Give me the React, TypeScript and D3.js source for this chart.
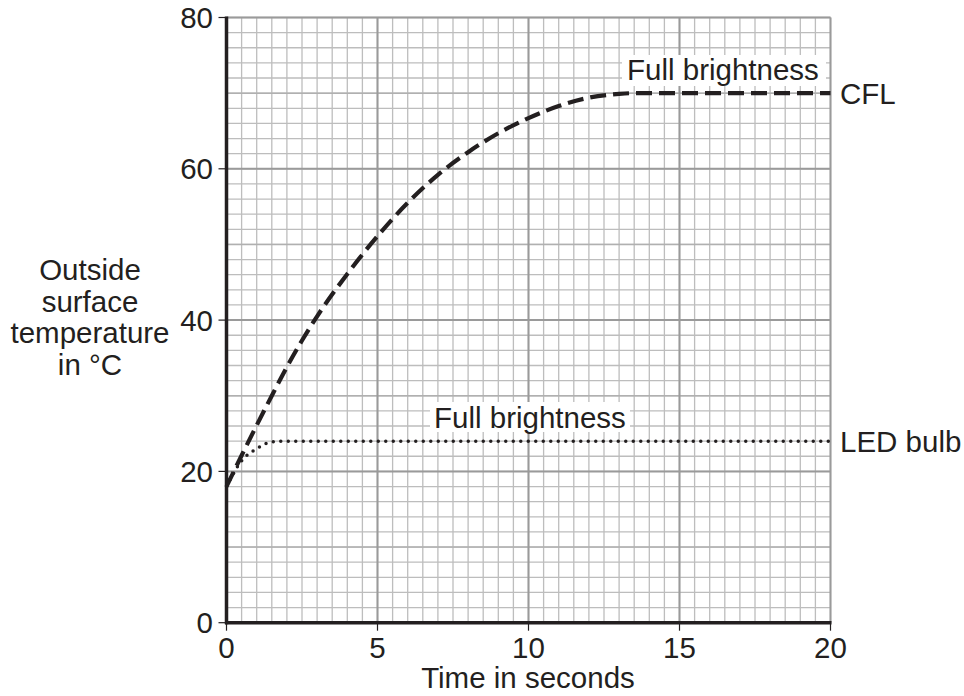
import React from "react";
import * as d3 from "d3";

const cflTime = [0, 0.5, 1, 1.5, 2, 2.5, 3, 4, 5, 6, 7, 8, 9, 10, 11, 12, 13, 13.5, 20];
const cflTemp = [18, 22.1, 26.1, 30, 33.8, 37.3, 40.5, 46.1, 51.1, 55.5, 59.2, 62.2, 64.7, 66.7, 68.3, 69.4, 69.9, 70, 70];
const ledTime = [0, 0.5, 1, 1.5, 2, 20];
const ledTemp = [18, 21.4, 23, 23.9, 24, 24];
const xTicks = [0, 5, 10, 15, 20];
const yTicks = [0, 20, 40, 60, 80];
const yTitleLines = ["Outside", "surface", "temperature", "in °C"];

const W = 964;
const H = 696;
const L = 226.5;
const R = 830.5;
const T = 17.5;
const B = 622.7;
const FONT = "'Liberation Sans', Arial, sans-serif";
const FS = 29.5;

export default function App() {
  const x = d3.scaleLinear().domain([0, 20]).range([L, R]);
  const y = d3.scaleLinear().domain([0, 80]).range([B, T]);
  const line = d3
    .line<[number, number]>()
    .x((d) => x(d[0]))
    .y((d) => y(d[1]))
    .curve(d3.curveMonotoneX);

  const cfl = cflTime.map((t, i) => [t, cflTemp[i]] as [number, number]);
  const led = ledTime.map((t, i) => [t, ledTemp[i]] as [number, number]);

  const xMinor = d3.range(0, 20.001, 0.5);
  const yMinor = d3.range(0, 80.001, 2);
  const xMajor = d3.range(0, 20.001, 5);
  const yMajor = d3.range(0, 80.001, 20);

  return (
    <svg
      width={W}
      height={H}
      style={{ position: "absolute", left: 0, top: 0, background: "#fff" }}
      fontFamily={FONT}
    >
      <rect x={0} y={0} width={W} height={H} fill="#fff" />
      {xMinor.map((v) => (
        <line key={"xm" + v} x1={x(v)} x2={x(v)} y1={T} y2={B} stroke="#bdbdbd" strokeWidth={1.3} />
      ))}
      {yMinor.map((v) => (
        <line key={"ym" + v} x1={L} x2={R} y1={y(v)} y2={y(v)} stroke="#bdbdbd" strokeWidth={1.3} />
      ))}
      {d3.range(10, 80, 20).map((v) => (
        <line key={"ymid" + v} x1={L} x2={R} y1={y(v)} y2={y(v)} stroke="#b0b0b0" strokeWidth={1.5} />
      ))}
      {xMajor.map((v) => (
        <line key={"xM" + v} x1={x(v)} x2={x(v)} y1={T} y2={B} stroke="#9a9a9a" strokeWidth={2} />
      ))}
      {yMajor.map((v) => (
        <line key={"yM" + v} x1={L} x2={R} y1={y(v)} y2={y(v)} stroke="#9a9a9a" strokeWidth={2} />
      ))}

      <rect x={622} y={55} width={204} height={31} fill="#fff" />
      <rect x={430} y={402} width={200} height={30} fill="#fff" />

      <line x1={L} x2={L} y1={T - 1} y2={B + 1.5} stroke="#231f20" strokeWidth={3.5} />
      <line x1={L - 1.5} x2={R + 1} y1={B} y2={B} stroke="#231f20" strokeWidth={3.5} />

      {yTicks.map((v) => (
        <g key={"yt" + v}>
          <line x1={L - 8} x2={L} y1={y(v)} y2={y(v)} stroke="#231f20" strokeWidth={1.2} />
          <text x={213} y={y(v)} textAnchor="end" dominantBaseline="central" fontSize={FS} fill="#231f20">
            {v}
          </text>
        </g>
      ))}
      {xTicks.map((v) => (
        <g key={"xt" + v}>
          <line x1={x(v)} x2={x(v)} y1={B} y2={B + 8} stroke="#231f20" strokeWidth={1.2} />
          <text x={x(v)} y={658} textAnchor="middle" fontSize={FS} fill="#231f20">
            {v}
          </text>
        </g>
      ))}

      <path
        d={line(led) || ""}
        fill="none"
        stroke="#231f20"
        strokeWidth={3.5}
        strokeDasharray="0 7.5"
        strokeLinecap="round"
      />
      <path d={line(cfl) || ""} fill="none" stroke="#231f20" strokeWidth={4.2} strokeDasharray="16 7" />

      <text x={627} y={80} fontSize={FS} fill="#231f20">
        Full brightness
      </text>
      <text x={434} y={428} fontSize={FS} fill="#231f20">
        Full brightness
      </text>
      <text x={840} y={y(70)} dominantBaseline="central" fontSize={FS} fill="#231f20">
        CFL
      </text>
      <text x={840} y={y(24)} dominantBaseline="central" fontSize={FS} fill="#231f20">
        LED bulb
      </text>

      <text x={528} y={688} textAnchor="middle" fontSize={FS} fill="#231f20">
        Time in seconds
      </text>
      {yTitleLines.map((s, i) => (
        <text key={s} x={90} y={280 + i * 31.7} textAnchor="middle" fontSize={FS} fill="#231f20">
          {s}
        </text>
      ))}
    </svg>
  );
}
